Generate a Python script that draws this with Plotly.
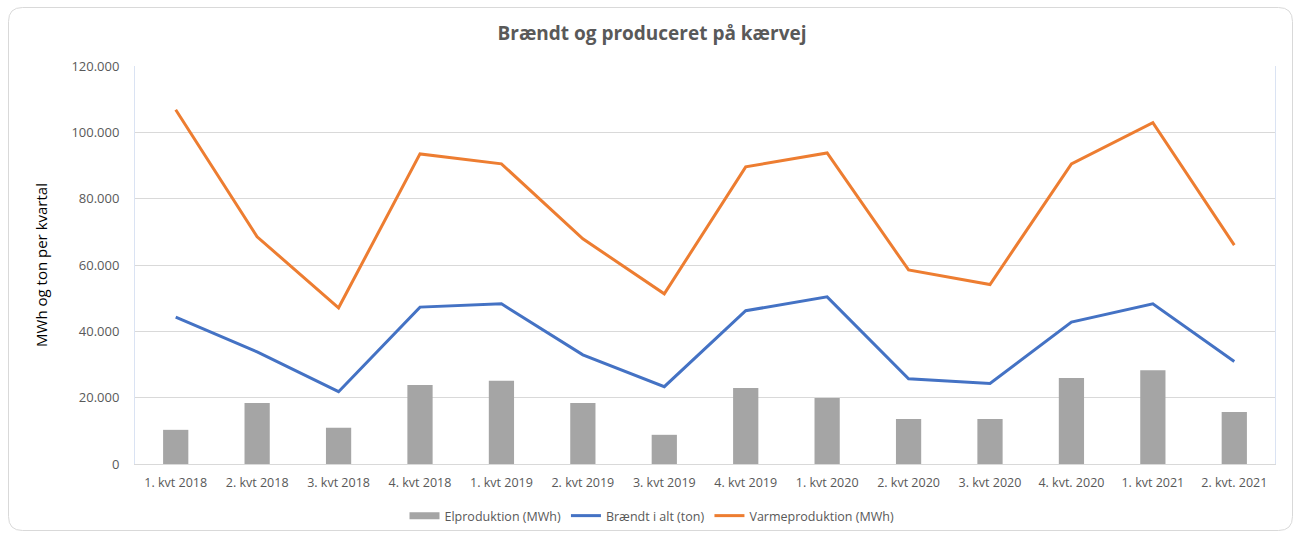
import plotly.graph_objects as go

categories = ["1. kvt 2018", "2. kvt 2018", "3. kvt 2018", "4. kvt 2018",
              "1. kvt 2019", "2. kvt 2019", "3. kvt 2019", "4. kvt 2019",
              "1. kvt 2020", "2. kvt 2020", "3. kvt 2020", "4. kvt. 2020",
              "1. kvt 2021", "2. kvt. 2021"]
elproduktion = [10300, 18400, 10900, 23800, 25100, 18400, 8800, 22900,
                19900, 13600, 13600, 25900, 28300, 15700]
braendt = [44300, 33800, 21800, 47300, 48300, 32900, 23300, 46200,
           50400, 25700, 24300, 42800, 48300, 30900]
varme = [106800, 68500, 47100, 93500, 90500, 67900, 51300, 89600,
         93800, 58500, 54100, 90500, 102900, 66000]
yticks = [0, 20000, 40000, 60000, 80000, 100000, 120000]

W, H = 1296, 533
L, R, T, B = 135, 1275, 66, 464
FONT = "Open Sans, Lato, sans-serif"

fig = go.Figure()
fig.add_trace(go.Bar(x=categories, y=elproduktion, name="Elproduktion (MWh)",
                     marker=dict(color="#A5A5A5", line=dict(width=0)),
                     showlegend=False, legendgroup="el"))
# legend proxy so the bar key is drawn as a wide rectangle like the original
fig.add_trace(go.Scatter(x=[None], y=[None], name="Elproduktion (MWh)",
                         mode="lines", line=dict(color="#A5A5A5", width=7),
                         legendgroup="el"))
fig.add_trace(go.Scatter(x=categories, y=braendt, name="Brændt i alt (ton)",
                         mode="lines", line=dict(color="#4472C4", width=3)))
fig.add_trace(go.Scatter(x=categories, y=varme, name="Varmeproduktion (MWh)",
                         mode="lines", line=dict(color="#ED7D31", width=3)))

def px_x(p):
    return (p - L) / (R - L)

def px_y(p):
    return (B - p) / (B - T)

# rounded outer border
x0, x1, y0, y1, r = 8.5, 1292.5, 7.5, 530.5, 14
pts = [
    ("M", x0 + r, y0), ("L", x1 - r, y0), ("Q", x1, y0, x1, y0 + r),
    ("L", x1, y1 - r), ("Q", x1, y1, x1 - r, y1), ("L", x0 + r, y1),
    ("Q", x0, y1, x0, y1 - r), ("L", x0, y0 + r), ("Q", x0, y0, x0 + r, y0),
]
path = ""
for p in pts:
    coords = p[1:]
    s = [f"{px_x(coords[i]):.5f},{px_y(coords[i+1]):.5f}" for i in range(0, len(coords), 2)]
    path += p[0] + " ".join(s) + " "
path += "Z"
fig.add_shape(type="path", path=path, xref="paper", yref="paper",
              line=dict(color="#D9D9D9", width=1), layer="below")

fig.update_layout(
    width=W, height=H,
    margin=dict(l=L, r=W - R, t=T, b=H - B, autoexpand=False),
    paper_bgcolor="white", plot_bgcolor="white",
    separators=",.",
    font=dict(family=FONT, color="#595959", size=12),
    title=dict(text="<b>Brændt og produceret på kærvej</b>",
               x=px_x(652), xref="paper", xanchor="center",
               y=1 - 33 / H, yanchor="middle",
               font=dict(size=19, color="#595959", family=FONT)),
    bargap=0.69,
    showlegend=True,
    legend=dict(orientation="h", xanchor="center", x=652 / W, xref="container",
                yanchor="middle", y=1 - 516 / H, yref="container",
                bgcolor="rgba(0,0,0,0)",
                font=dict(size=12.5, color="#595959", family=FONT),
                itemwidth=30, traceorder="normal"),
    xaxis=dict(showgrid=False, showline=True, linecolor="#D9D9D9", linewidth=1,
               ticks="", tickfont=dict(size=12.5, color="#595959"),
               ticklabelstandoff=7, automargin=False),
    yaxis=dict(range=[0, 120000], tickvals=yticks, tickformat=",d",
               showgrid=True, gridcolor="#D9D9D9", gridwidth=1,
               zeroline=False, showline=True, mirror=True,
               linecolor="#DAE3F3", linewidth=1, automargin=False,
               tickfont=dict(size=13, color="#595959"),
               ticklabelstandoff=12,
               title=dict(text="MWh og ton per kvartal",
                          font=dict(size=15, color="#000000", family=FONT),
                          standoff=20)),
)

fig.write_html("out.html", config={"displayModeBar": False},
               post_script="document.body.style.margin='0px';"
                           "document.body.style.overflow='hidden';")
